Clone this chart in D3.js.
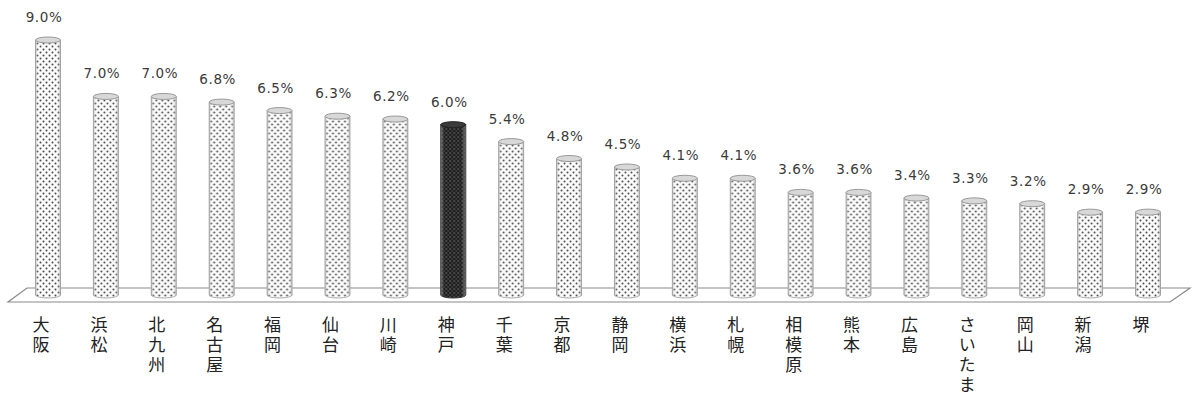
<!DOCTYPE html>
<html><head><meta charset="utf-8">
<script src="https://cdn.jsdelivr.net/npm/d3@7/dist/d3.min.js"></script>
<style>html,body{margin:0;padding:0;background:#fff;}svg{display:block;}</style>
</head><body>
<svg id="chart" width="1194" height="398"></svg>
<script>
const categories = ["大阪","浜松","北九州","名古屋","福岡","仙台","川崎","神戸","千葉","京都","静岡","横浜","札幌","相模原","熊本","広島","さいたま","岡山","新潟","堺"];
const values = [9.0,7.0,7.0,6.8,6.5,6.3,6.2,6.0,5.4,4.8,4.5,4.1,4.1,3.6,3.6,3.4,3.3,3.2,2.9,2.9];
const highlight = ["神戸"];

const svg = d3.select("#chart");
const defs = svg.append("defs");

const pl = defs.append("pattern").attr("id","dotLight").attr("patternUnits","userSpaceOnUse").attr("width",6).attr("height",6);
pl.append("rect").attr("width",6).attr("height",6).attr("fill","#fbfbfb");
pl.append("circle").attr("cx",1.5).attr("cy",1.5).attr("r",1).attr("fill","#4a4a4a");
pl.append("circle").attr("cx",4.5).attr("cy",4.5).attr("r",1).attr("fill","#4a4a4a");

const pd = defs.append("pattern").attr("id","dotDark").attr("patternUnits","userSpaceOnUse").attr("width",4).attr("height",4);
pd.append("rect").attr("width",4).attr("height",4).attr("fill","#1e1e1e");
pd.append("circle").attr("cx",1).attr("cy",1).attr("r",0.8).attr("fill","#7a7a7a");
pd.append("circle").attr("cx",3).attr("cy",3).attr("r",0.8).attr("fill","#5a5a5a");

const g = defs.append("linearGradient").attr("id","shade").attr("x1","0").attr("x2","1");
[[0,"#808080",0.55],[0.12,"#ffffff",0],[0.85,"#ffffff",0],[1,"#808080",0.55]].forEach(s=>
  g.append("stop").attr("offset",s[0]).attr("stop-color",s[1]).attr("stop-opacity",s[2]));

const x = d3.scalePoint().domain(categories).range([48,1148]);
const y = d3.scaleLinear().domain([0,9]).range([291,37]);
const bw = 25, ry = 3, bottomY = 295;

const floor = d3.path();
floor.moveTo(27,288); floor.lineTo(1190,288); floor.lineTo(1170,302); floor.lineTo(8,302); floor.closePath();
svg.append("path").attr("d",floor.toString()).attr("fill","#fff").attr("stroke","#8a8a8a").attr("stroke-width",1.2);

const bars = svg.append("g").selectAll("g").data(categories).join("g")
  .attr("transform",d=>`translate(${x(d)},0)`);

bars.each(function(d,i){
  const sel = d3.select(this);
  const v = values[i];
  const dark = highlight.includes(d);
  const top = y(v) + ry;
  const fill = dark ? "url(#dotDark)" : "url(#dotLight)";
  const body = `M${-bw/2},${top} L${-bw/2},${bottomY} A${bw/2},${ry} 0 0 0 ${bw/2},${bottomY} L${bw/2},${top} Z`;
  sel.append("path").attr("d",body).attr("fill",fill).attr("stroke",dark?"#333":"#b0b0b0").attr("stroke-width",1);
  sel.append("path").attr("d",body).attr("fill","url(#shade)").attr("stroke","none");
  sel.append("ellipse").attr("cx",0).attr("cy",top).attr("rx",bw/2).attr("ry",ry)
    .attr("fill",dark?"#3a3a3a":"#d8d8d8").attr("stroke",dark?"#222":"#999").attr("stroke-width",1);
  sel.append("text").attr("x",-4).attr("y",y(v)-15).attr("text-anchor","middle")
    .attr("font-family","DejaVu Sans, Verdana, sans-serif").attr("font-size",13.5).attr("letter-spacing",0.6)
    .attr("fill","#3a3a3a").text(v.toFixed(1)+"%");
});

// vertical category labels
svg.append("g").selectAll("text").data(categories).join("text")
  .attr("x",d=>x(d)-7).attr("y",316)
  .style("writing-mode","vertical-rl")
  .attr("letter-spacing",3)
  .attr("font-family","Noto Sans CJK JP, sans-serif").attr("font-size",17)
  .attr("fill","#222").text(d=>d);
</script>
</body></html>
